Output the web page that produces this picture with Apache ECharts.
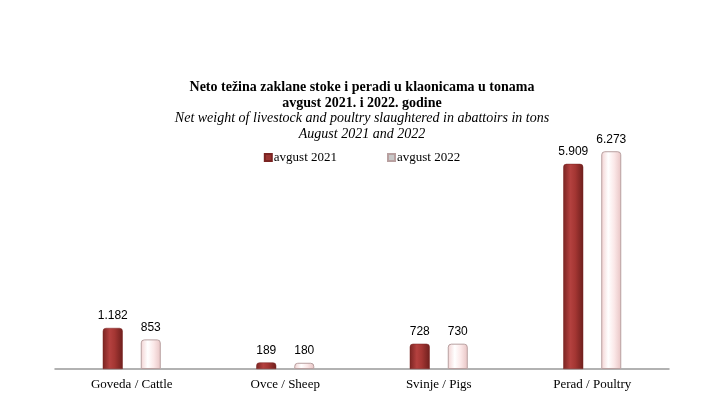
<!DOCTYPE html>
<html><head><meta charset="utf-8">
<script src="https://cdn.jsdelivr.net/npm/echarts@6/dist/echarts.min.js"></script>
<style>html,body{margin:0;padding:0;background:#fff}#c{width:724px;height:420px}</style>
</head><body><div id="c"></div>
<script>
var categories = ['Goveda / Cattle', 'Ovce / Sheep', 'Svinje / Pigs', 'Perad / Poultry'];
var aug2021 = [1182, 189, 728, 5909];
var aug2022 = [853, 180, 730, 6273];
var seriesNames = ['avgust 2021', 'avgust 2022'];

function fmt(v){ return v >= 1000 ? String(v).replace(/(\d)(\d{3})$/, '$1.$2') : String(v); }

var redGrad = new echarts.graphic.LinearGradient(0,0,1,0,[
  {offset:0,color:'#7a2422'},{offset:0.35,color:'#b4413f'},{offset:0.6,color:'#a43633'},{offset:1,color:'#6e1f1d'}]);
var pinkGrad = new echarts.graphic.LinearGradient(0,0,1,0,[
  {offset:0,color:'#f2d2d2'},{offset:0.35,color:'#ffffff'},{offset:0.65,color:'#fbe8e8'},{offset:1,color:'#e8c4c4'}]);

var chart = echarts.init(document.getElementById('c'));
chart.setOption({
  animation:false,
  title:[
    {text:'Neto težina zaklane stoke i peradi u klaonicama u tonama\navgust 2021. i 2022. godine',
     left:'center', top:74,
     textStyle:{fontFamily:'Liberation Serif', fontWeight:'bold', fontSize:14, color:'#000', lineHeight:16, align:'center'}},
    {text:'Net weight of livestock and poultry slaughtered in abattoirs in tons\nAugust 2021 and 2022',
     left:'center', top:105,
     textStyle:{fontFamily:'Liberation Serif', fontStyle:'italic', fontWeight:'normal', fontSize:14, color:'#000', lineHeight:16, align:'center'}}
  ],
  legend:{
    top:146, left:'center', itemWidth:7, itemHeight:7, itemGap:50, icon:'rect',
    textStyle:{fontFamily:'Liberation Serif', fontSize:13, color:'#000', padding:[0,0,0,-3]},
    data:[{name:seriesNames[0], itemStyle:{color:'#9b3532'}},{name:seriesNames[1], itemStyle:{color:'#c8c8c8'}}]
  },
  grid:{left:55, right:55, top:126, bottom:51},
  xAxis:{type:'category', data:categories,
    axisLine:{lineStyle:{color:'#999', width:1.5}}, axisTick:{show:false},
    axisLabel:{fontFamily:'Liberation Serif', fontSize:13, color:'#000', margin:9}},
  yAxis:{type:'value', min:0, max:7000, show:false, splitLine:{show:false}},
  series:[
    {name:seriesNames[0], type:'bar', data:aug2021, barWidth:20, barGap:'90%',
     itemStyle:{color:redGrad, borderRadius:[3,3,0,0], borderColor:'#7a2422', borderWidth:0.5},
     label:{show:true, position:'top', distance:6, fontFamily:'Liberation Sans', fontSize:12, color:'#000',
       formatter:function(p){return fmt(p.value);}}},
    {name:seriesNames[1], type:'bar', data:aug2022, barWidth:20,
     itemStyle:{color:pinkGrad, borderRadius:[3,3,0,0], borderColor:'#b8a0a0', borderWidth:1},
     label:{show:true, position:'top', distance:6, fontFamily:'Liberation Sans', fontSize:12, color:'#000',
       formatter:function(p){return fmt(p.value);}}}
  ]
});
</script></body></html>
